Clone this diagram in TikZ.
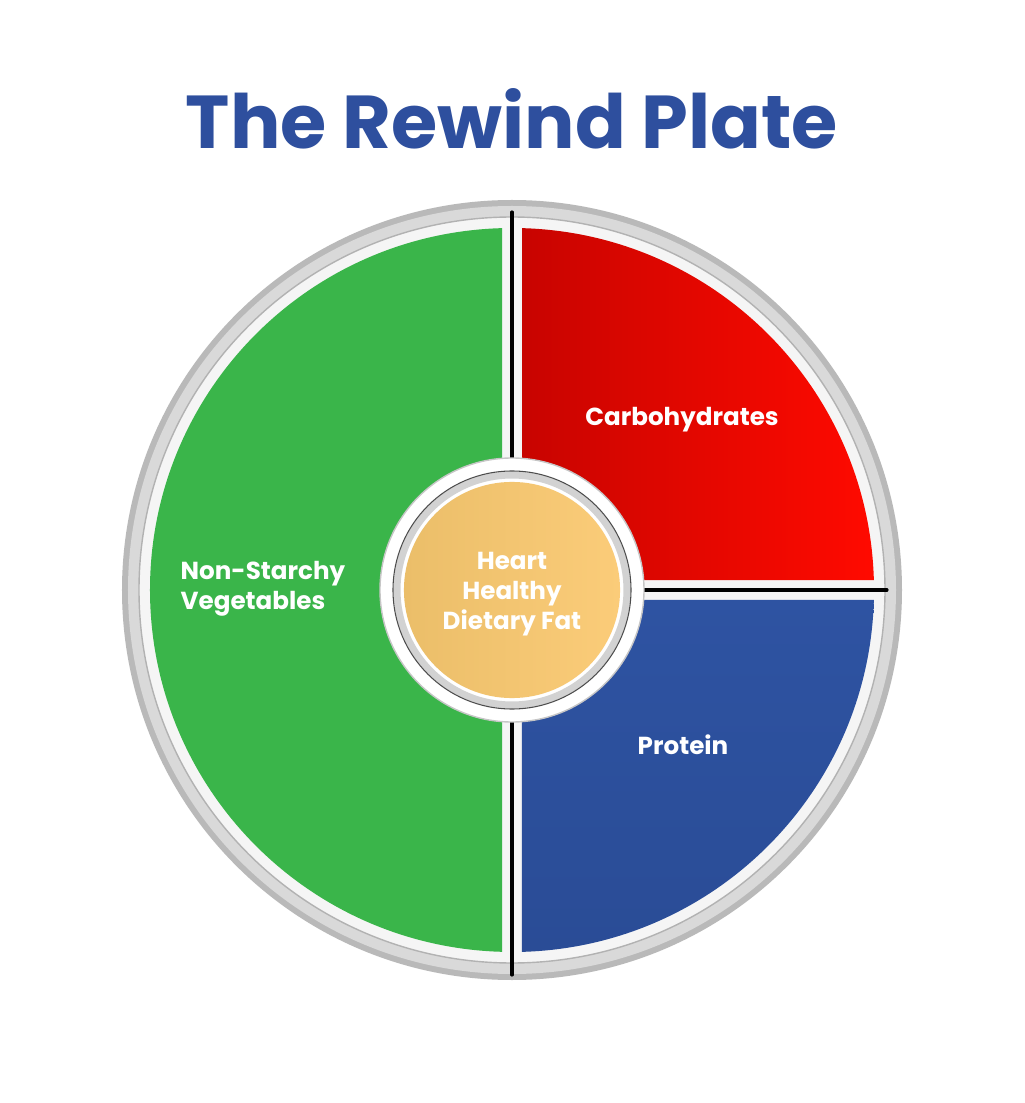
\documentclass[tikz,border=0pt]{standalone}
\usepackage{fontspec}
\setmainfont{Poppins}
\usetikzlibrary{positioning}
\definecolor{titleblue}{HTML}{2E4F9E}
\definecolor{vegGreen}{HTML}{3AB54A}
\definecolor{carbRed}{HTML}{EE0A00}
\definecolor{carbDark}{HTML}{C80400}
\definecolor{carbBright}{HTML}{FF0A00}
\definecolor{protBlue}{HTML}{2E53A2}
\definecolor{protDark}{HTML}{2A4C96}
\definecolor{fatLight}{HTML}{FBCC79}
\definecolor{fatDark}{HTML}{EBBE69}

\begin{document}
\begin{tikzpicture}[x=0.01cm, y=0.01cm,
    sectiontext/.style={text=white, font=\bfseries\fontsize{7.0}{8.5}\selectfont},
    divider/.style={line width=0.9pt, black, line cap=round},
    fatdisc/.style={circle, minimum size=2.16cm, inner sep=0pt, shade, shading angle=45,
        left color=fatDark, right color=fatLight, align=center}]
    \useasboundingbox (-512,-513) rectangle (512,590);
    \fill[white] (-512,-513) rectangle (512,590);

    \node[text=titleblue, font=\bfseries\fontsize{21.3}{25}\selectfont] (title) at (0,471) {The Rewind Plate};

    \fill[gray!55] (0,0) circle (390);
    \fill[gray!30] (0,0) circle (384);
    \fill[gray!8] (0,0) circle (373);
    \draw[gray!60, line width=0.4pt] (0,0) circle (373);

    \fill[vegGreen] (-10,-361.86) -- (-10,361.86) arc[start angle=91.58, end angle=268.42, radius=362] -- cycle;
    \shade[left color=carbDark, middle color=carbRed, right color=carbBright] (10,10) -- (10,361.86) arc[start angle=88.42, end angle=1.58, radius=362] -- cycle;
    \shade[bottom color=protDark, top color=protBlue] (10,-10) -- (361.86,-10) arc[start angle=-1.58, end angle=-88.42, radius=362] -- cycle;

    \draw[divider] (0,122) -- (0,378);
    \draw[divider] (0,-122) -- (0,-385);
    \draw[divider] (126,0) -- (375,0);

    \fill[white] (0,0) circle (132);
    \draw[gray!45, line width=0.4pt] (0,0) circle (132);
    \draw[gray!35, line width=2pt] (0,0) circle (115);
    \draw[black!70, line width=0.3pt] (0,0) circle (119);

    \node[fatdisc] (fat) at (0,0) {};
    \node[sectiontext, align=center] (fattext) at (0,-4) {Heart\\Healthy\\Dietary Fat};
    \node[sectiontext] (carbs) at (170,170) {Carbohydrates};
    \node[sectiontext] (protein) at (171,-155) {Protein};
    \node[sectiontext, anchor=west, align=left, inner sep=0pt] (veg) at (-332,1) {Non-Starchy\\Vegetables};
\end{tikzpicture}
\end{document}
